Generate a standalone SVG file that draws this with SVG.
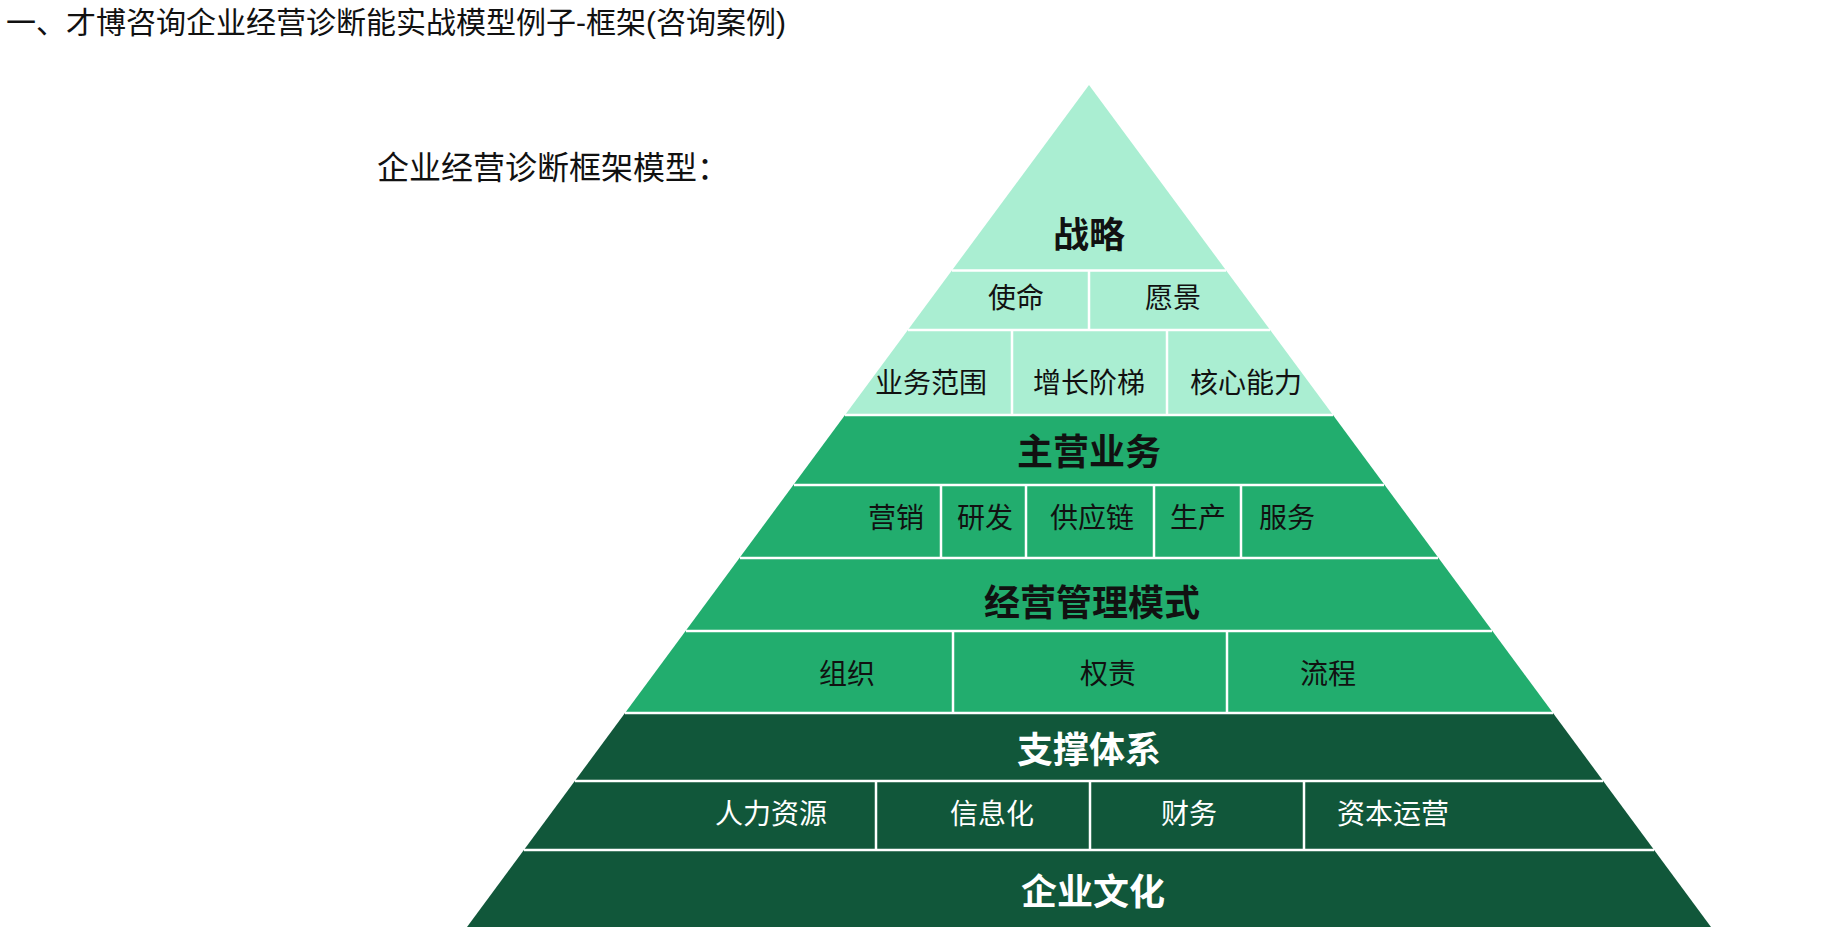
<svg xmlns="http://www.w3.org/2000/svg" width="1845" height="942" viewBox="0 0 1845 942">
<style>
text{font-family:"Liberation Sans","Noto Sans CJK SC",sans-serif;text-anchor:middle;dominant-baseline:central}
.h{font-size:36px;font-weight:bold}
.s{font-size:28px}
.k{fill:#111}
.w{fill:#fff}
.sep{stroke:#fff;stroke-width:2.5;fill:none}
</style>
<rect width="1845" height="942" fill="#fff"/>
<text x="6" y="22" style="text-anchor:start;font-size:30px" class="k">一、才博咨询企业经营诊断能实战模型例子-框架(咨询案例)</text>
<text x="377" y="168" style="text-anchor:start;font-size:32px" class="k">企业经营诊断框架模型：</text>
<g id="pyramid">
<polygon points="1089,85 1333,415 845,415" fill="#aaeed2"/>
<polygon points="845,415 1333,415 1553,713 625,713" fill="#22ad6e"/>
<polygon points="625,713 1553,713 1711,927 467,927" fill="#11573a"/>
</g>
<g id="connectors" class="sep">
<line x1="952" y1="270.5" x2="1226" y2="270.5"/>
<line x1="908" y1="330" x2="1270" y2="330"/>
<line x1="845" y1="415" x2="1333" y2="415"/>
<line x1="794" y1="485" x2="1384" y2="485"/>
<line x1="740" y1="558" x2="1438" y2="558"/>
<line x1="686" y1="631" x2="1492" y2="631"/>
<line x1="625" y1="713" x2="1553" y2="713"/>
<line x1="575" y1="781" x2="1603" y2="781"/>
<line x1="524" y1="850" x2="1654" y2="850"/>
<line x1="1089" y1="270" x2="1089" y2="330"/>
<line x1="1012" y1="330" x2="1012" y2="415"/>
<line x1="1167" y1="330" x2="1167" y2="415"/>
<line x1="941" y1="485" x2="941" y2="558"/>
<line x1="1026" y1="485" x2="1026" y2="558"/>
<line x1="1154" y1="485" x2="1154" y2="558"/>
<line x1="1241" y1="485" x2="1241" y2="558"/>
<line x1="953" y1="631" x2="953" y2="713"/>
<line x1="1227" y1="631" x2="1227" y2="713"/>
<line x1="876" y1="781" x2="876" y2="850"/>
<line x1="1090" y1="781" x2="1090" y2="850"/>
<line x1="1304" y1="781" x2="1304" y2="850"/>
</g>
<g id="strategy"><text x="1089" y="235" class="h k">战略</text>
<text x="1016" y="298" class="s k">使命</text><text x="1173" y="298" class="s k">愿景</text>
<text x="931" y="383" class="s k">业务范围</text><text x="1089" y="383" class="s k">增长阶梯</text><text x="1246" y="383" class="s k">核心能力</text></g>
<g id="business"><text x="1089" y="452" class="h k">主营业务</text>
<text x="896" y="518" class="s k">营销</text><text x="985" y="518" class="s k">研发</text><text x="1092" y="518" class="s k">供应链</text><text x="1198" y="518" class="s k">生产</text><text x="1287" y="518" class="s k">服务</text></g>
<g id="mgmt"><text x="1092" y="603" class="h k">经营管理模式</text>
<text x="847" y="674" class="s k">组织</text><text x="1108" y="674" class="s k">权责</text><text x="1328" y="674" class="s k">流程</text></g>
<g id="support"><text x="1089" y="750" class="h w">支撑体系</text>
<text x="771" y="814" class="s w">人力资源</text><text x="992" y="814" class="s w">信息化</text><text x="1189" y="814" class="s w">财务</text><text x="1393" y="814" class="s w">资本运营</text></g>
<g id="culture"><text x="1093" y="892" class="h w">企业文化</text></g>
</svg>
